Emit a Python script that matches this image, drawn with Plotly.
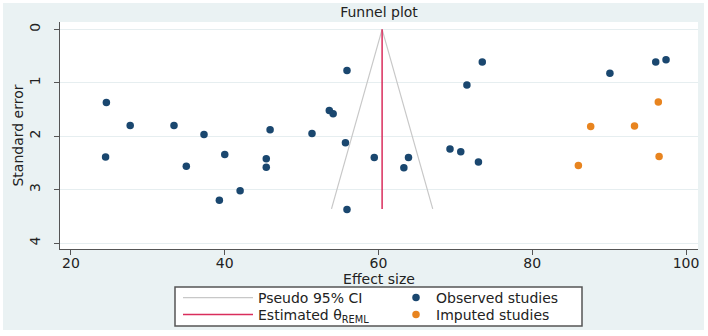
import plotly.graph_objects as go

# ---- data ----
obs_effect = [24.6, 24.5, 27.7, 33.4, 37.3, 35.0, 40.0, 42.0, 39.3, 45.9, 45.4, 45.4,
              55.9, 53.6, 54.1, 51.35, 55.7, 59.45, 63.9, 63.3, 69.3, 70.7, 73.0,
              71.5, 73.5, 55.9, 90.1, 96.06, 97.4]
obs_se = [1.37, 2.39, 1.80, 1.80, 1.97, 2.56, 2.34, 3.02, 3.20, 1.88, 2.42, 2.58,
          0.77, 1.52, 1.58, 1.95, 2.12, 2.40, 2.40, 2.59, 2.24, 2.29, 2.48,
          1.04, 0.61, 3.37, 0.82, 0.61, 0.57]
imp_effect = [96.4, 87.6, 93.3, 96.5, 86.0]
imp_se = [1.36, 1.82, 1.81, 2.38, 2.55]
theta_reml = 60.47
se_max = 3.36
z95 = 1.96
x_ticks = [20, 40, 60, 80, 100]
y_ticks = [0, 1, 2, 3, 4]

# ---- geometry ----
W, H = 708, 336
L, R, T, B = 60, 10, 22, 87
PW, PH = W - L - R, H - T - B


def fx(p):
    return (p - L) / PW


def fy(p):
    return 1 - (p - T) / PH


FONT = "DejaVu Sans"
TXT = "#222222"
AX = "#555555"

fig = go.Figure()

ci_x = [theta_reml - z95 * se_max, theta_reml, theta_reml + z95 * se_max]
ci_y = [se_max, 0, se_max]
fig.add_trace(go.Scatter(x=ci_x, y=ci_y, mode="lines", name="Pseudo 95% CI",
                         line=dict(color="#c8c8c8", width=1.2), legend="legend"))
fig.add_trace(go.Scatter(x=[theta_reml, theta_reml], y=[0, se_max], mode="lines",
                         name="Estimated θ<sub>REML</sub>",
                         line=dict(color="#d92d5c", width=1.5), legend="legend3"))
fig.add_trace(go.Scatter(x=obs_effect, y=obs_se, mode="markers", name="Observed studies",
                         marker=dict(color="#1a476f", size=7.5), legend="legend2"))
fig.add_trace(go.Scatter(x=imp_effect, y=imp_se, mode="markers", name="Imputed studies",
                         marker=dict(color="#e8841f", size=7.5), legend="legend4"))

# white outer frame around light bluish-gray background
outer = f"M{fx(0)},{fy(0)} L{fx(W)},{fy(0)} L{fx(W)},{fy(H)} L{fx(0)},{fy(H)} Z"
inner = f"M{fx(3)},{fy(3)} L{fx(704)},{fy(3)} L{fx(704)},{fy(330)} L{fx(3)},{fy(330)} Z"
shapes = [
    dict(type="path", xref="paper", yref="paper", path=outer + " " + inner,
         fillcolor="white", fillrule="evenodd", line=dict(width=0), layer="above"),
    dict(type="rect", xref="paper", yref="paper", x0=fx(175), x1=fx(582),
         y0=fy(326), y1=fy(287), fillcolor="white",
         line=dict(color=AX, width=1.5), layer="above"),
]


def leg(xp, yp, iw):
    return dict(x=fx(xp), y=fy(yp), xanchor="left", yanchor="middle",
                orientation="v", bgcolor="rgba(0,0,0,0)", borderwidth=0,
                itemwidth=iw, font=dict(size=14, color=TXT))


fig.update_layout(
    width=W, height=H,
    margin=dict(l=L, r=R, t=T, b=B, autoexpand=False),
    paper_bgcolor="#eaf2f3",
    plot_bgcolor="white",
    font=dict(family=FONT, size=14, color=TXT),
    title=dict(text="Funnel plot", x=0.5, xref="paper", xanchor="center",
               y=1 - 12 / H, yref="container", yanchor="middle",
               font=dict(family=FONT, size=14, color=TXT)),
    xaxis=dict(range=[18.57, 101.56], tickvals=x_ticks, ticks="outside", ticklen=5,
               tickcolor=AX, showline=True, linecolor=AX, linewidth=1.3,
               showgrid=False, zeroline=False, tickfont=dict(size=14),
               ticklabelstandoff=-4,
               title=dict(text="Effect size", standoff=0, font=dict(size=14))),
    yaxis=dict(range=[4.11, -0.137], tickvals=y_ticks, ticks="outside", ticklen=5,
               tickcolor=AX, showline=True, linecolor=AX, linewidth=1.3,
               showgrid=True, gridcolor="#e6eef0", gridwidth=1, zeroline=False,
               tickangle=-90, ticklabelstandoff=8, tickfont=dict(size=14),
               title=dict(text="Standard error", standoff=0, font=dict(size=14))),
    legend=leg(178, 298, 70),
    legend3=leg(178, 315, 70),
    legend2=leg(396, 298, 30),
    legend4=leg(396, 315, 30),
    shapes=shapes,
    showlegend=True,
)

fig.write_html("out.html",
               config={"displayModeBar": False},
               post_script="document.body.style.margin='0';"
                           "document.body.style.overflow='hidden';")
